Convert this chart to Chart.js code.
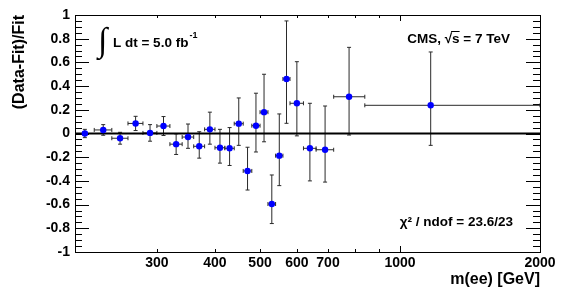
<!DOCTYPE html>
<html>
<head>
<meta charset="utf-8">
<script src="https://cdn.jsdelivr.net/npm/chart.js@4/dist/chart.umd.min.js"></script>
<style>
  html, body { margin: 0; padding: 0; background: #fff; }
  #wrap { width: 581px; height: 290px; }
</style>
</head>
<body>
<div id="wrap"><canvas id="myChart"></canvas></div>
<script>
// m(ee) bins [GeV]: point position and bin edges
var massPoint = [210, 230, 250, 270, 290, 310, 330, 350, 370, 390, 410, 430, 450, 470, 490, 510, 530, 550, 570, 600, 640, 690, 777, 1164];
var binLow    = [208, 220, 240, 260, 280, 300, 320, 340, 360, 380, 400, 420, 440, 460, 480, 500, 520, 540, 560, 580, 620, 660, 720, 840];
var binHigh   = [212, 240, 260, 280, 300, 320, 340, 360, 380, 400, 420, 440, 460, 480, 500, 520, 540, 560, 580, 620, 660, 720, 840, 2000];

// (Data-Fit)/Fit and its errors (down / up)
var ratio   = [0.00, 0.03, -0.04, 0.085, 0.005, 0.063, -0.09, -0.03, -0.108, 0.035, -0.12, -0.125, 0.083, -0.316, 0.066, 0.18, -0.595, -0.187, 0.46, 0.255, -0.125, -0.137, 0.31, 0.238];
var errDown = [0.035, 0.045, 0.05, 0.06, 0.07, 0.08, 0.087, 0.095, 0.10, 0.125, 0.13, 0.145, 0.183, 0.161, 0.222, 0.25, 0.165, 0.253, 0.374, 0.275, 0.275, 0.273, 0.323, 0.338];
var errUp   = [0.035, 0.045, 0.05, 0.06, 0.07, 0.08, 0.087, 0.11, 0.123, 0.145, 0.155, 0.175, 0.217, 0.20, 0.274, 0.32, 0.245, 0.352, 0.49, 0.351, 0.38, 0.369, 0.417, 0.45];

// axis ticks
var xTickLabels = [300, 400, 500, 600, 700, 1000, 2000];
var xTickMarks = [300, 400, 500, 600, 700, 800, 900, 1000];

var boldFont = '"Liberation Sans", Arial, Helvetica, sans-serif';

function line(ctx, x1, y1, x2, y2) {
    ctx.beginPath();
    ctx.moveTo(x1, y1);
    ctx.lineTo(x2, y2);
    ctx.stroke();
}

// ROOT style frame, ticks, zero line and error bars
var rootFrame = {
    id: 'rootFrame',
    beforeDatasetsDraw: function(chart) {
        var ctx = chart.ctx;
        var a = chart.chartArea;
        var x = chart.scales.x;
        var y = chart.scales.y;
        ctx.save();
        ctx.strokeStyle = '#000';
        ctx.lineWidth = 1;

        // y ticks on both sides, minor every 0.05
        for (var i = 0; i <= 40; i++) {
            var py = Math.round(y.getPixelForValue(-1 + i * 0.05)) + 0.5;
            var len = (i % 4 === 0) ? 14 : 7;
            line(ctx, a.left, py, a.left + len, py);
            line(ctx, a.right, py, a.right - len, py);
        }
        // x ticks on bottom and top
        xTickMarks.forEach(function(v) {
            var px = Math.round(x.getPixelForValue(v)) + 0.5;
            var len = (v === 1000) ? 6 : 3;
            line(ctx, px, a.bottom, px, a.bottom - len);
            line(ctx, px, a.top, px, a.top + len);
        });

        // error bars
        ctx.strokeStyle = '#2a2a2a';
        ctx.lineWidth = 1;
        for (var k = 0; k < massPoint.length; k++) {
            var cx = x.getPixelForValue(massPoint[k]);
            var cy = y.getPixelForValue(ratio[k]);
            var xl = x.getPixelForValue(binLow[k]);
            var xh = x.getPixelForValue(binHigh[k]);
            var yl = y.getPixelForValue(ratio[k] - errDown[k]);
            var yh = y.getPixelForValue(ratio[k] + errUp[k]);
            line(ctx, xl, cy, xh, cy);
            line(ctx, xl, cy - 2, xl, cy + 2);
            line(ctx, xh, cy - 2, xh, cy + 2);
            line(ctx, cx, yl, cx, yh);
            line(ctx, cx - 2, yl, cx + 2, yl);
            line(ctx, cx - 2, yh, cx + 2, yh);
        }

        // zero line
        ctx.strokeStyle = '#000';
        ctx.lineWidth = 2;
        var y0 = y.getPixelForValue(0);
        line(ctx, a.left, y0, a.right, y0);

        // frame
        ctx.lineWidth = 1;
        ctx.strokeRect(Math.round(a.left) + 0.5, Math.round(a.top) + 0.5,
            Math.round(a.right - a.left), Math.round(a.bottom - a.top));
        ctx.restore();
    },
    afterDraw: function(chart) {
        var ctx = chart.ctx;
        var a = chart.chartArea;
        ctx.save();
        ctx.fillStyle = '#000';
        ctx.textBaseline = 'alphabetic';

        // integrated luminosity
        ctx.font = '34px "Liberation Serif", serif';
        ctx.textAlign = 'left';
        ctx.fillText('\u222B', a.left + 23, a.top + 36);
        ctx.font = 'bold 13.5px ' + boldFont;
        ctx.fillText('L dt = 5.0 fb', a.left + 38, a.top + 32);
        var w = ctx.measureText('L dt = 5.0 fb').width;
        ctx.font = 'bold 9px ' + boldFont;
        ctx.fillText('-1', a.left + 38 + w + 1, a.top + 23);

        // CMS label
        ctx.font = 'bold 13.5px ' + boldFont;
        ctx.textAlign = 'right';
        var cms = 'CMS, \u221As = 7 TeV';
        var right = a.right - 30;
        ctx.fillText(cms, right, a.top + 28);
        var full = ctx.measureText(cms).width;
        var pre = ctx.measureText('CMS, \u221A').width;
        var sw = ctx.measureText('s').width;
        var sx = right - full + pre;
        ctx.lineWidth = 1;
        line(ctx, sx - 1, a.top + 16.5, sx + sw, a.top + 16.5);

        // chi2 / ndof
        ctx.fillText('\u03C7\u00B2 / ndof = 23.6/23', a.right - 27, a.top + 211);
        ctx.restore();
    }
};

var points = massPoint.map(function(m, i) {
    return { x: m, y: ratio[i] };
});

new Chart(document.getElementById('myChart'), {
    type: 'scatter',
    data: {
        datasets: [{
            data: points,
            backgroundColor: '#0000ff',
            borderColor: '#0000ff',
            borderWidth: 0,
            pointRadius: 3.2,
            pointHoverRadius: 3.2
        }]
    },
    options: {
        responsive: true,
        maintainAspectRatio: false,
        animation: false,
        events: [],
        layout: { padding: { top: 15, right: 41, left: 0, bottom: 0 } },
        plugins: {
            legend: { display: false },
            tooltip: { enabled: false }
        },
        scales: {
            x: {
                type: 'logarithmic',
                min: 200,
                max: 2000,
                bounds: 'data',
                afterBuildTicks: function(scale) {
                    scale.ticks = xTickLabels.map(function(v) { return { value: v }; });
                },
                afterFit: function(scale) { scale.height = 38; },
                grid: { display: false, drawTicks: false },
                border: { display: false },
                ticks: {
                    autoSkip: false,
                    maxRotation: 0,
                    padding: 3,
                    color: '#000',
                    font: { family: boldFont, size: 14, weight: 'bold' },
                    callback: function(v) { return String(v); }
                },
                title: {
                    display: true,
                    text: 'm(ee) [GeV]',
                    align: 'end',
                    color: '#000',
                    padding: { top: 0, bottom: 1 },
                    font: { family: boldFont, size: 16, weight: 'bold' }
                }
            },
            y: {
                min: -1,
                max: 1,
                afterFit: function(scale) { scale.width = 75; },
                grid: { display: false, drawTicks: false },
                border: { display: false },
                ticks: {
                    stepSize: 0.2,
                    padding: 5,
                    color: '#000',
                    font: { family: boldFont, size: 14, weight: 'bold' },
                    callback: function(v) { return String(Math.round(v * 10) / 10); }
                },
                title: {
                    display: true,
                    text: '(Data-Fit)/Fit',
                    align: 'end',
                    color: '#000',
                    padding: { top: 10, bottom: 0 },
                    font: { family: boldFont, size: 16, weight: 'bold' }
                }
            }
        }
    },
    plugins: [rootFrame]
});
</script>
</body>
</html>
